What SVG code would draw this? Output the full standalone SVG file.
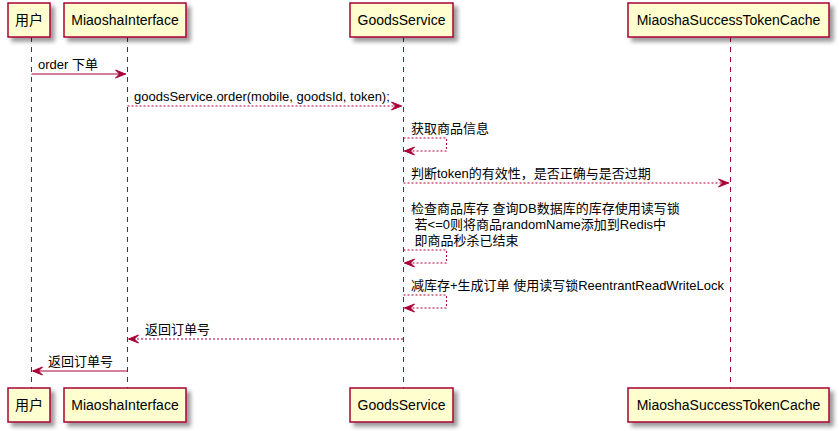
<svg xmlns="http://www.w3.org/2000/svg" width="839" height="431" viewBox="0 0 839 431">
<defs>
<filter id="sh" x="-10%" y="-20%" width="130%" height="160%">
<feGaussianBlur in="SourceAlpha" stdDeviation="2"/>
<feOffset dx="4" dy="4" result="b"/>
<feComponentTransfer><feFuncA type="linear" slope="0.4"/></feComponentTransfer>
<feMerge><feMergeNode/><feMergeNode in="SourceGraphic"/></feMerge>
</filter>
</defs>
<style>
.box{fill:#FEFECE;stroke:#A80036;stroke-width:1.5;filter:url(#sh)}
.life{stroke:#A80036;stroke-width:1;stroke-dasharray:5,5;fill:none}
.ln{stroke:#A80036;stroke-width:1;fill:none}
.dl{stroke:#A80036;stroke-width:1;stroke-dasharray:2,2;fill:none}
.ah{fill:#A80036;stroke:#A80036;stroke-width:1}
.pt{font-family:"Liberation Sans","Noto Sans CJK SC",sans-serif;font-size:14px;fill:#000;text-anchor:middle}
.mt{font-family:"Liberation Sans","Noto Sans CJK SC",sans-serif;font-size:13px;fill:#000;white-space:pre}
</style>
<g id="lifelines">
<line class="life" x1="31.5" y1="37" x2="31.5" y2="388"/>
<line class="life" x1="127.5" y1="37" x2="127.5" y2="388"/>
<line class="life" x1="403.5" y1="37" x2="403.5" y2="388"/>
<line class="life" x1="730.5" y1="37" x2="730.5" y2="388"/>
</g>
<g id="user">
<rect class="box" x="8" y="3" width="42" height="34"/>
<text class="pt" x="29" y="25">用户</text>
<rect class="box" x="8" y="388" width="42" height="34"/>
<text class="pt" x="29" y="410">用户</text>
</g>
<g id="MiaoshaInterface">
<rect class="box" x="64" y="3" width="122" height="34"/>
<text class="pt" x="125" y="25">MiaoshaInterface</text>
<rect class="box" x="64" y="388" width="122" height="34"/>
<text class="pt" x="125" y="410">MiaoshaInterface</text>
</g>
<g id="GoodsService">
<rect class="box" x="350" y="3" width="103" height="34"/>
<text class="pt" x="401.5" y="25">GoodsService</text>
<rect class="box" x="350" y="388" width="103" height="34"/>
<text class="pt" x="401.5" y="410">GoodsService</text>
</g>
<g id="MiaoshaSuccessTokenCache">
<rect class="box" x="628" y="3" width="201" height="34"/>
<text class="pt" x="728.5" y="25">MiaoshaSuccessTokenCache</text>
<rect class="box" x="628" y="388" width="201" height="34"/>
<text class="pt" x="728.5" y="410">MiaoshaSuccessTokenCache</text>
</g>
<g id="connectors">
<line class="ln" x1="31.5" y1="74" x2="126" y2="74"/>
<polygon class="ah" points="115.5,70 125.5,74 115.5,78 119.5,74"/>
<text class="mt" x="38" y="69">order 下单</text>

<line class="dl" x1="127.5" y1="106" x2="402" y2="106"/>
<polygon class="ah" points="391.5,102 401.5,106 391.5,110 395.5,106"/>
<text class="mt" x="134" y="101">goodsService.order(mobile, goodsId, token);</text>

<polyline class="dl" points="403.5,138 446.5,138 446.5,151 404.5,151"/>
<polygon class="ah" points="414.5,147 404.5,151 414.5,155 410.5,151"/>
<text class="mt" x="411" y="133">获取商品信息</text>

<line class="dl" x1="403.5" y1="183" x2="729" y2="183"/>
<polygon class="ah" points="718.5,179 728.5,183 718.5,187 722.5,183"/>
<text class="mt" x="411" y="178">判断token的有效性，是否正确与是否过期</text>

<polyline class="dl" points="403.5,250 446.5,250 446.5,263 404.5,263"/>
<polygon class="ah" points="414.5,259 404.5,263 414.5,267 410.5,263"/>
<text class="mt" x="411" y="213">检查商品库存 查询DB数据库的库存使用读写锁</text>
<text class="mt" x="411" y="229"> 若&lt;=0则将商品randomName添加到Redis中</text>
<text class="mt" x="411" y="245"> 即商品秒杀已结束</text>

<polyline class="dl" points="403.5,295 446.5,295 446.5,308 404.5,308"/>
<polygon class="ah" points="414.5,304 404.5,308 414.5,312 410.5,308"/>
<text class="mt" x="411" y="290">减库存+生成订单 使用读写锁ReentrantReadWriteLock</text>

<line class="dl" x1="129" y1="339" x2="403.5" y2="339"/>
<polygon class="ah" points="138.5,335 128.5,339 138.5,343 134.5,339"/>
<text class="mt" x="145" y="334">返回订单号</text>

<line class="ln" x1="33" y1="371" x2="127.5" y2="371"/>
<polygon class="ah" points="42.5,367 32.5,371 42.5,375 38.5,371"/>
<text class="mt" x="48" y="366">返回订单号</text>
</g>
</svg>
